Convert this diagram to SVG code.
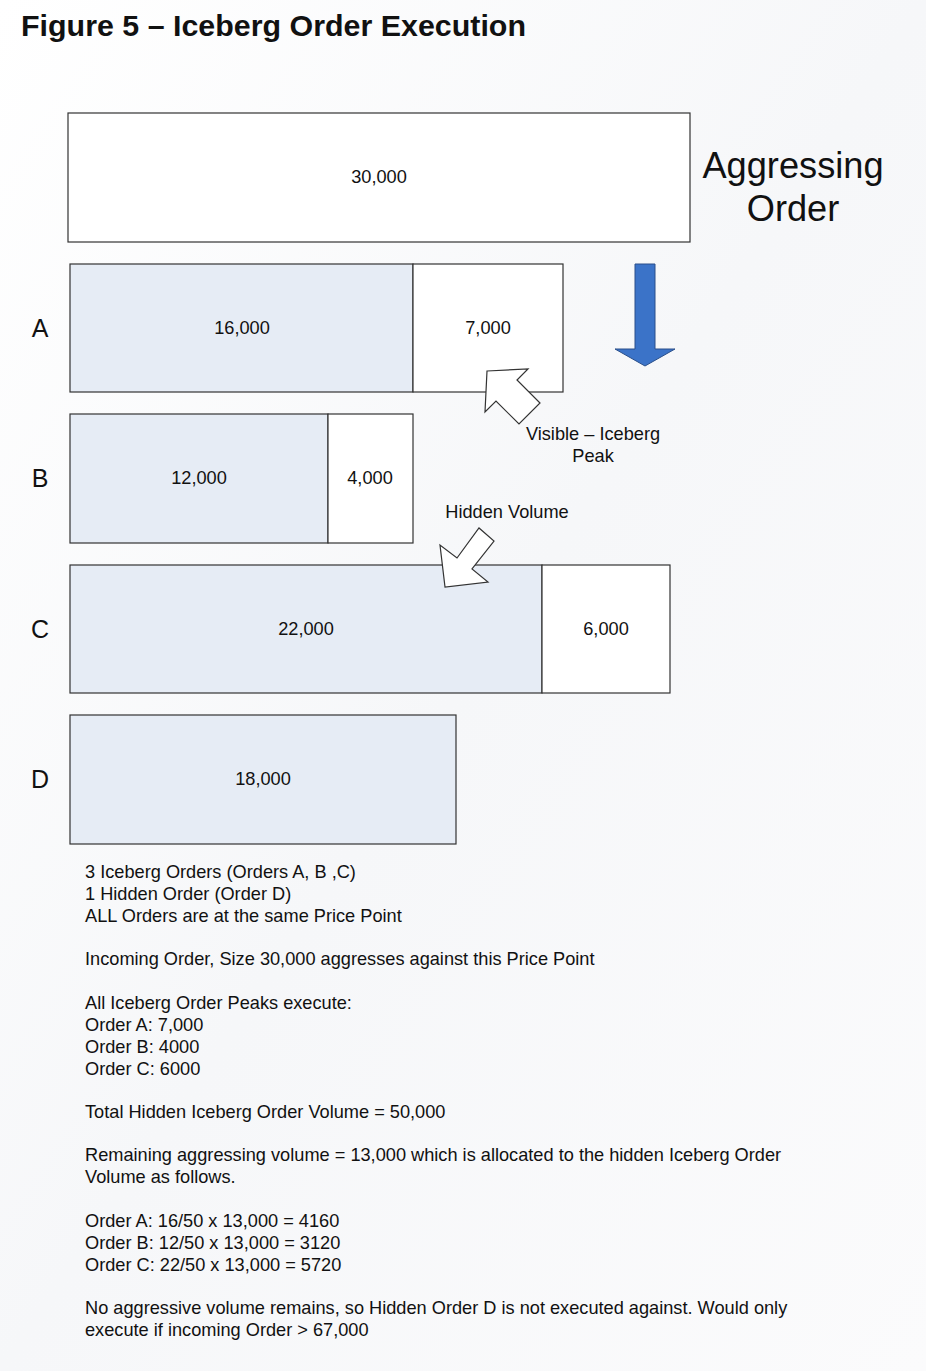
<svg xmlns="http://www.w3.org/2000/svg" width="926" height="1371" viewBox="0 0 926 1371">
<defs>
<style>
.t{font-family:"Liberation Sans",Arial,sans-serif;fill:#111;}
.n{font-size:18.2px;text-anchor:middle;}
.lbl{font-size:25px;text-anchor:middle;}
.body{font-size:18.2px;}
.box{stroke:#333;stroke-width:1.2;}
.fill{fill:#e6ecf5;}
.white{fill:#ffffff;}
.outl{fill:#ffffff;stroke:#333;stroke-width:1.2;stroke-linejoin:miter;}
</style>
<linearGradient id="bg" x1="0" y1="0" x2="1" y2="1">
<stop offset="0" stop-color="#ffffff"/>
<stop offset="0.5" stop-color="#f6f7f9"/>
<stop offset="1" stop-color="#fbfbfc"/>
</linearGradient>
</defs>
<rect x="0" y="0" width="926" height="1371" fill="url(#bg)"/>
<text class="t" x="21" y="36" font-size="30" font-weight="bold" textLength="505" lengthAdjust="spacingAndGlyphs">Figure 5 – Iceberg Order Execution</text>

<g id="aggressing">
<rect class="box white" x="68" y="113" width="622" height="129"/>
<text class="t n" x="379" y="183">30,000</text>
<text class="t" x="793" y="178" font-size="36.2" text-anchor="middle">Aggressing</text>
<text class="t" x="793" y="221" font-size="36.2" text-anchor="middle">Order</text>
</g>

<g id="orderA">
<text class="t lbl" x="40" y="337">A</text>
<rect class="box fill" x="70" y="264" width="343" height="128"/>
<rect class="box white" x="413" y="264" width="150" height="128"/>
<text class="t n" x="242" y="334">16,000</text>
<text class="t n" x="488" y="334">7,000</text>
</g>

<g id="orderB">
<text class="t lbl" x="40" y="487">B</text>
<rect class="box fill" x="70" y="414" width="258" height="129"/>
<rect class="box white" x="328" y="414" width="85" height="129"/>
<text class="t n" x="199" y="484">12,000</text>
<text class="t n" x="370" y="484">4,000</text>
</g>

<g id="orderC">
<text class="t lbl" x="40" y="638">C</text>
<rect class="box fill" x="70" y="565" width="472" height="128"/>
<rect class="box white" x="542" y="565" width="128" height="128"/>
<text class="t n" x="306" y="635">22,000</text>
<text class="t n" x="606" y="635">6,000</text>
</g>

<g id="orderD">
<text class="t lbl" x="40" y="788">D</text>
<rect class="box fill" x="70" y="715" width="386" height="129"/>
<text class="t n" x="263" y="785">18,000</text>
</g>

<g id="connectors">
<polygon points="635,264 655,264 655,349 675,349 645,366 615,349 635,349" fill="#3b73c8" stroke="#2a4f8a" stroke-width="1"/>
<polygon class="outl" points="487,371 528,369 517,380 540,403 519,424 496,401 485,412"/>
<polygon class="outl" points="445,587 440,545 457,558 479,528 494,541 472,569 488,582"/>
</g>

<g id="callouts">
<text class="t n" x="593" y="440">Visible – Iceberg</text>
<text class="t n" x="593" y="462">Peak</text>
<text class="t n" x="507" y="518">Hidden Volume</text>
</g>

<g id="notes" class="t body">
<text x="85" y="878">3 Iceberg Orders (Orders A, B ,C)</text>
<text x="85" y="900">1 Hidden Order (Order D)</text>
<text x="85" y="922">ALL Orders are at the same Price Point</text>
<text x="85" y="965">Incoming Order, Size 30,000 aggresses against this Price Point</text>
<text x="85" y="1009">All Iceberg Order Peaks execute:</text>
<text x="85" y="1031">Order A: 7,000</text>
<text x="85" y="1053">Order B: 4000</text>
<text x="85" y="1075">Order C: 6000</text>
<text x="85" y="1118">Total Hidden Iceberg Order Volume = 50,000</text>
<text x="85" y="1161">Remaining aggressing volume = 13,000 which is allocated to the hidden Iceberg Order</text>
<text x="85" y="1183">Volume as follows.</text>
<text x="85" y="1227">Order A: 16/50 x 13,000 = 4160</text>
<text x="85" y="1249">Order B: 12/50 x 13,000 = 3120</text>
<text x="85" y="1271">Order C: 22/50 x 13,000 = 5720</text>
<text x="85" y="1314">No aggressive volume remains, so Hidden Order D is not executed against. Would only</text>
<text x="85" y="1336">execute if incoming Order &gt; 67,000</text>
</g>
</svg>
